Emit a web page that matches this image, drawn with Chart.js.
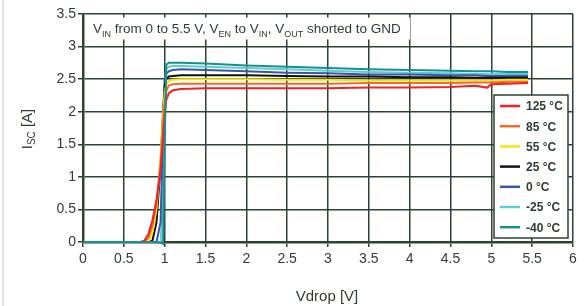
<!DOCTYPE html>
<html>
<head>
<meta charset="utf-8">
<script src="https://cdn.jsdelivr.net/npm/chart.js@4"></script>
<style>
  html, body { margin: 0; padding: 0; background: #fff; }
  #wrap { width: 586px; height: 306px; position: relative; }
</style>
</head>
<body>
<div id="wrap"><canvas id="iscChart" width="586" height="306"></canvas></div>
<script>
// Vdrop sample points shared by all curves [V]
const vdrop = [0, 0.70, 0.75, 0.80, 0.85, 0.90, 0.95, 0.98, 1.00, 1.02, 1.05, 1.10, 1.20, 1.50, 2.00, 2.50, 3.00, 3.50, 4.00, 4.50, 4.80, 4.95, 5.00, 5.20, 5.45];

// Short-circuit current per temperature [A]
const isc125 = [0, 0, 0.02, 0.12, 0.33, 0.65, 1.10, 1.60, 1.95, 2.18, 2.28, 2.33, 2.35, 2.36, 2.36, 2.36, 2.36, 2.37, 2.37, 2.38, 2.40, 2.37, 2.42, 2.43, 2.44];
const isc85  = [0, 0, 0, 0.06, 0.25, 0.60, 1.20, 1.80, 2.15, 2.32, 2.40, 2.42, 2.43, 2.43, 2.43, 2.43, 2.43, 2.44, 2.44, 2.44, 2.45, 2.45, 2.45, 2.46, 2.46];
const isc55  = [0, 0, 0, 0, 0.15, 0.50, 1.30, 1.95, 2.30, 2.42, 2.47, 2.49, 2.50, 2.50, 2.50, 2.49, 2.49, 2.48, 2.48, 2.48, 2.48, 2.48, 2.48, 2.49, 2.49];
const isc25  = [0, 0, 0, 0, 0.02, 0.30, 1.20, 2.00, 2.40, 2.50, 2.54, 2.55, 2.56, 2.56, 2.56, 2.55, 2.54, 2.54, 2.53, 2.53, 2.52, 2.52, 2.52, 2.52, 2.52];
const isc0   = [0, 0, 0, 0, 0, 0, 0.30, 1.70, 2.50, 2.58, 2.62, 2.64, 2.65, 2.64, 2.62, 2.60, 2.59, 2.57, 2.57, 2.56, 2.56, 2.55, 2.55, 2.55, 2.55];
const iscM25 = [0, 0, 0, 0, 0, 0, 0, 0.60, 2.40, 2.66, 2.69, 2.70, 2.70, 2.69, 2.67, 2.65, 2.63, 2.61, 2.60, 2.59, 2.58, 2.58, 2.58, 2.58, 2.58];
const iscM40 = [0, 0, 0, 0, 0, 0, -0.01, -0.03, 1.50, 2.72, 2.75, 2.75, 2.75, 2.74, 2.71, 2.69, 2.67, 2.65, 2.64, 2.63, 2.62, 2.62, 2.62, 2.61, 2.61];

const seriesLabels = ['125 °C', '85 °C', '55 °C', '25 °C', '0 °C', '-25 °C', '-40 °C'];
const seriesValues = [isc125, isc85, isc55, isc25, isc0, iscM25, iscM40];
const seriesColors = ['#ee2327', '#f26a2a', '#f7e414', '#111111', '#3d55a8', '#5ccdd0', '#17918f'];

const xTicks = [0, 0.5, 1, 1.5, 2, 2.5, 3, 3.5, 4, 4.5, 5, 5.5, 6];
const yTicks = [0, 0.5, 1, 1.5, 2, 2.5, 3, 3.5];

const INK = '#2f3d31';
const GRID = '#2e4233';
const FONT = '"Liberation Sans", Arial, sans-serif';

// text with subscripts: parts = [[text, isSub], ...]
function drawSubText(c, parts, x, y, size) {
  let cx = x;
  parts.forEach(([t, sub]) => {
    c.font = (sub ? Math.round(size * 0.68) : size) + 'px ' + FONT;
    c.fillText(t, cx, sub ? y + size * 0.28 : y);
    cx += c.measureText(t).width;
  });
  return cx;
}

const extras = {
  id: 'extras',
  beforeDatasetsDraw(chart) {
    const c = chart.ctx;
    const a = chart.chartArea;
    c.save();
    // white label box over the grid
    c.fillStyle = '#fff';
    c.fillRect(a.left + 2, 17.5, 325, 22);
    c.fillStyle = INK;
    c.textBaseline = 'alphabetic';
    c.textAlign = 'left';
    drawSubText(c, [['V', 0], ['IN', 1], [' from 0 to 5.5 V, V', 0], ['EN', 1], [' to V', 0], ['IN', 1], [', V', 0], ['OUT', 1], [' shorted to GND', 0]], 93, 33, 13.5);
    c.restore();
  },
  afterDraw(chart) {
    const c = chart.ctx;
    c.save();
    // faint page edge on the left
    c.strokeStyle = '#d5dbe2';
    c.lineWidth = 1.5;
    c.beginPath(); c.moveTo(3, 0); c.lineTo(3, 306); c.stroke();

    // axis titles
    c.fillStyle = INK;
    c.textAlign = 'center';
    c.textBaseline = 'middle';
    c.font = '15px ' + FONT;
    c.fillText('Vdrop [V]', 327, 297);

    c.save();
    c.translate(28, 129);
    c.rotate(-Math.PI / 2);
    c.textAlign = 'left';
    c.textBaseline = 'middle';
    c.font = '15px ' + FONT;
    const w1 = c.measureText('I').width;
    c.font = '10px ' + FONT;
    const w2 = c.measureText('SC').width;
    c.font = '15px ' + FONT;
    const w3 = c.measureText(' [A]').width;
    drawSubText(c, [['I', 0], ['SC', 1], [' [A]', 0]], -(w1 + w2 + w3) / 2, 0, 15);
    c.restore();

    // legend box
    const lx = 494, ly = 95, lw = 74, lh = 143;
    c.fillStyle = '#fff';
    c.fillRect(lx, ly, lw, lh);
    c.strokeStyle = GRID;
    c.lineWidth = 1.5;
    c.strokeRect(lx, ly, lw, lh);
    c.font = 'bold 12px ' + FONT;
    c.textAlign = 'left';
    c.textBaseline = 'middle';
    chart.data.datasets.forEach((ds, i) => {
      const y = 106 + i * 20.2;
      c.strokeStyle = ds.borderColor;
      c.lineWidth = 2.5;
      c.beginPath(); c.moveTo(500, y); c.lineTo(520, y); c.stroke();
      c.fillStyle = INK;
      c.fillText(ds.label, 526, y + 1);
    });
    c.restore();
  }
};

const ctx = document.getElementById('iscChart').getContext('2d');
new Chart(ctx, {
  type: 'line',
  data: {
    datasets: seriesLabels.map((label, i) => ({
      label,
      data: vdrop.map((x, j) => ({ x, y: seriesValues[i][j] })),
      borderColor: seriesColors[i],
      borderWidth: 2,
      pointRadius: 0,
      tension: 0,
      fill: false,
      clip: false,
      order: i === 6 ? -1 : i
    }))
  },
  options: {
    responsive: false,
    animation: false,
    parsing: false,
    layout: { padding: { left: 0, right: 13, top: 14, bottom: 0 } },
    plugins: { legend: { display: false }, tooltip: { enabled: false } },
    scales: {
      x: {
        type: 'linear',
        min: 0, max: 6,
        afterBuildTicks: s => { s.ticks = xTicks.map(v => ({ value: v })); },
        afterFit: s => { s.height = 64; },
        grid: { color: GRID, lineWidth: 1.5, tickLength: 5, tickColor: GRID },
        border: { color: GRID, width: 2.5 },
        ticks: { color: INK, font: { family: FONT, size: 14 }, padding: 4, maxRotation: 0, callback: v => String(v) }
      },
      y: {
        type: 'linear',
        min: 0, max: 3.5,
        afterBuildTicks: s => { s.ticks = yTicks.map(v => ({ value: v })); },
        afterFit: s => { s.width = 83; },
        grid: { color: GRID, lineWidth: 1.5, tickLength: 5, tickColor: GRID },
        border: { color: GRID, width: 2.5 },
        ticks: { color: INK, font: { family: FONT, size: 14 }, padding: 2, callback: v => String(v) }
      }
    }
  },
  plugins: [extras]
});
</script>
</body>
</html>
